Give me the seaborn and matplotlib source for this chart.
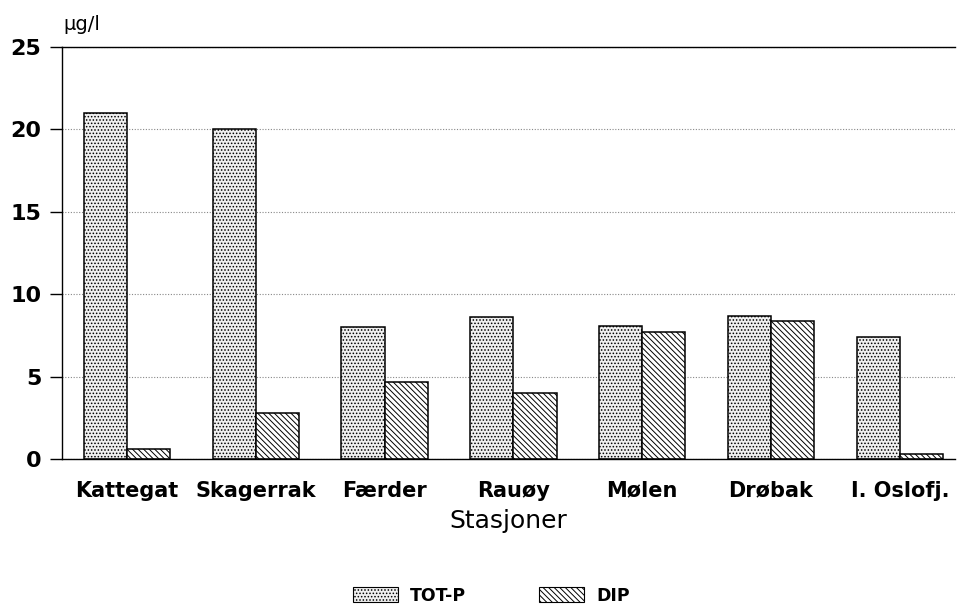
import pandas as pd
import matplotlib
matplotlib.use('Agg')
import matplotlib.pyplot as plt
import seaborn as sns
from matplotlib.patches import Patch

# data
stasjoner = ['Kattegat', 'Skagerrak', 'Færder', 'Rauøy', 'Mølen', 'Drøbak', 'I. Oslofj.']
tot_p = [21.0, 20.0, 8.0, 8.6, 8.1, 8.7, 7.4]
dip = [0.6, 2.8, 4.7, 4.0, 7.7, 8.4, 0.3]
serier = ['TOT-P', 'DIP']

df = pd.DataFrame({
    'Stasjon': stasjoner * 2,
    'Serie': ['TOT-P'] * len(stasjoner) + ['DIP'] * len(stasjoner),
    'Verdi': tot_p + dip,
})

sns.set_style('white')
plt.rcParams['font.family'] = ['DejaVu Sans']
plt.rcParams['hatch.linewidth'] = 0.7
plt.rcParams['text.color'] = 'black'
plt.rcParams['axes.labelcolor'] = 'black'
plt.rcParams['xtick.color'] = 'black'
plt.rcParams['ytick.color'] = 'black'

fig = plt.figure(figsize=(9.6, 6.14), dpi=100)
ax = fig.add_axes([0.0646, 0.2524, 0.9304, 0.6711])

sns.barplot(data=df, x='Stasjon', y='Verdi', hue='Serie', hue_order=serier,
            width=0.67, gap=0, palette=['#eeeeee', 'white'], legend=False, ax=ax)

stiler = [('#f0f0f0', '.....'), ('white', '\\\\\\\\\\\\')]
for cont, (fc, hatch) in zip(ax.containers, stiler):
    for p in cont.patches:
        p.set_facecolor(fc)
        p.set_edgecolor('black')
        p.set_linewidth(1.1)
        p.set_hatch(hatch)

ax.set_ylim(0, 25)
ax.set_xlim(-0.505, 6.43)
ax.set_yticks([0, 5, 10, 15, 20, 25])
ax.yaxis.grid(True, linestyle=(0, (1, 1.5)), color='#888888', linewidth=0.8)
ax.set_axisbelow(True)

for s in ['left', 'bottom', 'top']:
    ax.spines[s].set_visible(True)
    ax.spines[s].set_color('black')
    ax.spines[s].set_linewidth(1.0)
ax.spines['right'].set_visible(False)

ax.tick_params(axis='y', which='both', left=True, length=9, width=1, direction='out',
               labelsize=16, pad=6)
ax.tick_params(axis='x', bottom=False, labelsize=15, pad=12)
for lab in ax.get_yticklabels():
    lab.set_fontweight('bold')
for lab in ax.get_xticklabels():
    lab.set_fontweight('bold')

ax.set_ylabel('')
ax.set_xlabel('Stasjoner', fontsize=18, labelpad=6)
fig.text(0.066, 0.945, 'µg/l', fontsize=14, ha='left', va='bottom')

handles = [Patch(facecolor=fc, edgecolor='black', hatch=h, linewidth=0.8) for fc, h in stiler]
fig.legend(handles, serier, loc='lower center', bbox_to_anchor=(0.512, -0.01), ncol=2,
           frameon=False, handlelength=2.6, handleheight=1.0, handletextpad=0.7,
           columnspacing=4.2, prop={'weight': 'bold', 'size': 12.5})

fig.savefig('out.png', dpi=100)
